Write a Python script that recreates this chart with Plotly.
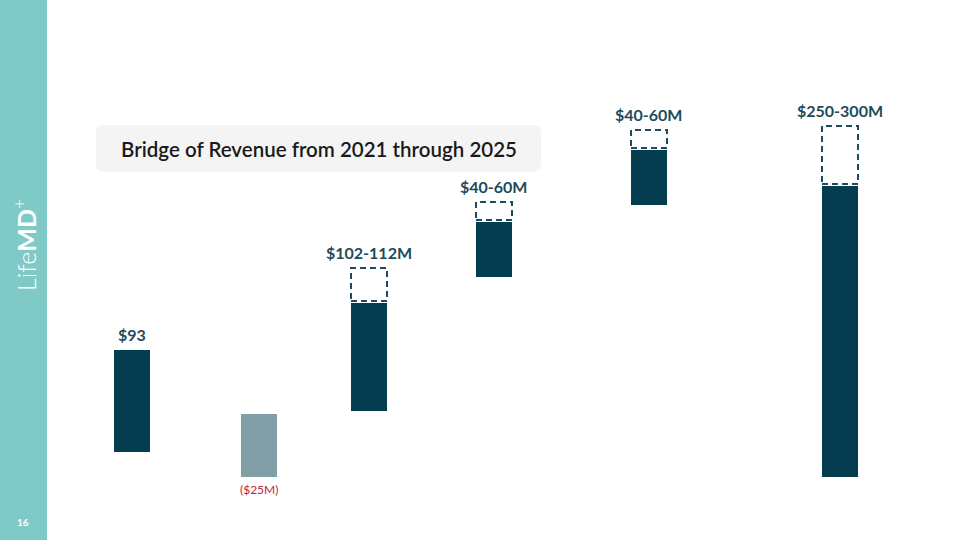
import plotly.graph_objects as go

# ---- data (chart units; slide graphic is not drawn to a uniform $ scale) ----
steps = ["2021", "Decline", "Growth A", "Growth B", "Growth C", "2025"]
slot = [132, 259, 369, 494, 649, 840]            # horizontal slot of each step
base = [88, 63, 129, 263, 335, 63]                # bottom of solid bar
solid = [102, 63, 108, 55, 55, 291]               # solid bar height
dashed = [0, 0, 33, 18, 18, 58]                   # dashed (range) box height
labels = ["$93", "($25M)", "$102-112M", "$40-60M", "$40-60M", "$250-300M"]
bar_colors = ["#053d50", "#819fa7", "#053d50", "#053d50", "#053d50", "#053d50"]
title = "Bridge of Revenue from 2021 through 2025"

W, H = 960, 540
BW = 36
GAP = 2
LABEL = "#1d4b5c"

fig = go.Figure()
fig.add_trace(go.Bar(
    x=slot, y=solid, base=base, width=BW,
    marker=dict(color=bar_colors, line=dict(width=0)),
    hoverinfo="skip", showlegend=False,
))

annotations = []
for i, (cx, b, s, d, lab) in enumerate(zip(slot, base, solid, dashed, labels)):
    top = b + s
    if d > 0:
        y0 = top + GAP
        y1 = y0 + d
        x0, x1 = cx - BW / 2, cx + BW / 2
        fig.add_trace(go.Scatter(
            x=[x0, x1, x1, x0, x0], y=[y0, y0, y1, y1, y0], mode="lines",
            line=dict(color=LABEL, width=2, dash="6px,4px"),
            hoverinfo="skip", showlegend=False,
        ))
        top = y1
    if i == 1:
        annotations.append(dict(x=cx, y=b - 12, text=lab, showarrow=False,
                                font=dict(family="Lato", size=12, color="#c0262d"),
                                xref="x", yref="y"))
    else:
        annotations.append(dict(x=cx, y=top + 16, text=f"<b>{lab}</b>", showarrow=False,
                                font=dict(family="Lato", size=16, color=LABEL),
                                xref="x", yref="y"))

# title box (rounded)
bx0, bx1, by0, by1, r = 96, 541, H - 172, H - 125, 8
path = (f"M {bx0+r},{by0} L {bx1-r},{by0} Q {bx1},{by0} {bx1},{by0+r} "
        f"L {bx1},{by1-r} Q {bx1},{by1} {bx1-r},{by1} L {bx0+r},{by1} "
        f"Q {bx0},{by1} {bx0},{by1-r} L {bx0},{by0+r} Q {bx0},{by0} {bx0+r},{by0} Z")
shapes = [
    dict(type="rect", xref="x", yref="y", x0=0, x1=47, y0=0, y1=H,
         fillcolor="#7fcac7", line=dict(width=0), layer="below"),
    dict(type="path", xref="x", yref="y", path=path,
         fillcolor="#f4f4f4", line=dict(width=0), layer="below"),
]
annotations.append(dict(x=(bx0 + bx1) / 2, y=(by0 + by1) / 2, text=title, showarrow=False,
                        font=dict(family="Lato", size=20.5, color="#1a1a1a", weight=600),
                        xref="x", yref="y"))
annotations.append(dict(x=24, y=H - 245, text="Life<b>MD</b><sup>+</sup>", textangle=-90,
                        showarrow=False,
                        font=dict(family="Lato", size=25, color="white", weight=300),
                        xref="x", yref="y"))
annotations.append(dict(x=23, y=H - 522, text="<b>16</b>", showarrow=False,
                        font=dict(family="Lato", size=10, color="white"),
                        xref="x", yref="y"))

fig.update_layout(
    width=W, height=H, margin=dict(l=0, r=0, t=0, b=0),
    paper_bgcolor="white", plot_bgcolor="white",
    xaxis=dict(range=[0, W], visible=False, fixedrange=True),
    yaxis=dict(range=[0, H], visible=False, fixedrange=True),
    shapes=shapes, annotations=annotations, bargap=0,
)
fig.write_html("out.html", config={"displayModeBar": False},
               post_script="document.body.style.margin='0';document.body.style.overflow='hidden';")
